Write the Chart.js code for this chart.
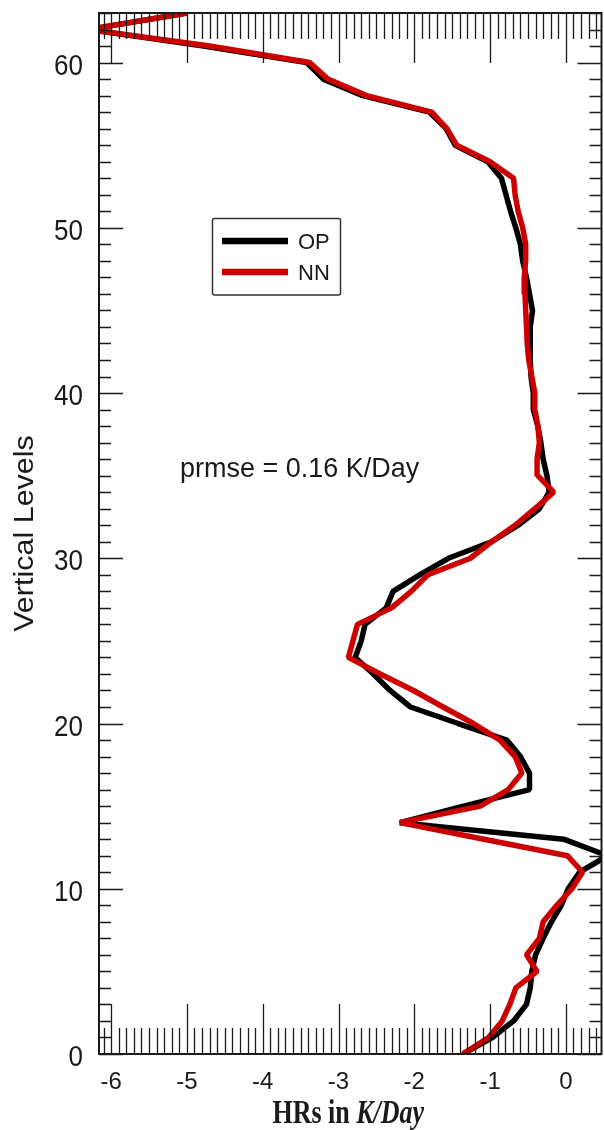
<!DOCTYPE html>
<html>
<head>
<meta charset="utf-8">
<title>HRs vertical profile</title>
<script src="https://cdn.jsdelivr.net/npm/chart.js@4.4.1/dist/chart.umd.min.js"></script>
<style>
    html, body { margin: 0; padding: 0; background: #fff; }
    #wrap { width: 604px; height: 1130px; }
</style>
</head>
<body>
<div id="wrap"><canvas id="hrChart" width="604" height="1130"></canvas></div>
<script>
// model levels (y) and heating rates in K/Day (x)
const levels = [0, 1, 2, 3, 4, 5, 6, 7, 8, 9, 10, 11, 12, 13, 14, 15, 16, 17, 18, 19, 20,
    21, 22, 23, 24, 25, 26, 27, 28, 29, 30, 31, 32, 33, 34, 35, 36, 37, 38, 39, 40,
    41, 42, 43, 44, 45, 46, 47, 48, 49, 50, 51, 52, 53, 54, 55, 56, 57, 58, 59, 60,
    61, 62, 63];
const opValues = [-1.36, -0.97, -0.69, -0.52, -0.47, -0.45, -0.40, -0.30, -0.19, -0.06, 0.03,
    0.18, 0.55, -0.03, -2.19, -1.35, -0.48, -0.48, -0.60, -0.78, -1.42,
    -2.05, -2.32, -2.54, -2.78, -2.70, -2.65, -2.37, -2.28, -1.93, -1.55,
    -0.98, -0.63, -0.35, -0.22, -0.25, -0.30, -0.33, -0.37, -0.43, -0.43,
    -0.46, -0.47, -0.47, -0.47, -0.44, -0.48, -0.52, -0.57, -0.60, -0.66,
    -0.73, -0.79, -0.85, -1.03, -1.46, -1.58, -1.80, -2.68, -3.20, -3.42,
    -4.78, -6.30, -5.00];
const nnValues = [-1.36, -1.02, -0.84, -0.74, -0.66, -0.38, -0.52, -0.35, -0.30, -0.12, 0.08,
    0.22, 0.02, -1.08, -2.19, -1.13, -0.76, -0.58, -0.67, -0.87, -1.22,
    -1.62, -2.01, -2.45, -2.87, -2.81, -2.75, -2.30, -2.04, -1.82, -1.26,
    -0.98, -0.67, -0.41, -0.16, -0.37, -0.38, -0.35, -0.37, -0.41, -0.41,
    -0.45, -0.49, -0.51, -0.52, -0.53, -0.54, -0.55, -0.53, -0.53, -0.57,
    -0.63, -0.67, -0.69, -1.00, -1.44, -1.57, -1.77, -2.63, -3.14, -3.38,
    -4.70, -6.30, -5.00];
const yTickLabels = [0, 10, 20, 30, 40, 50, 60];
const xTickLabels = [-6, -5, -4, -3, -2, -1, 0];
const seriesNames = ['OP', 'NN'];
const prmseText = 'prmse = 0.16 K/Day';

const SANS = "'Liberation Sans', Arial, Helvetica, sans-serif";
const SERIF = "'Liberation Serif', 'Times New Roman', serif";

function toPoints(values) {
    return values.map((v, i) => ({ x: v, y: levels[i] }));
}

// text squeezed/stretched vertically like the original figure
function drawText(ctx, text, x, y, sy, align) {
    ctx.save();
    ctx.translate(x, y);
    ctx.scale(1, sy);
    ctx.textAlign = align || 'left';
    ctx.textBaseline = 'alphabetic';
    ctx.fillText(text, 0, 0);
    ctx.restore();
}

const framePlugin = {
    id: 'frame',
    afterDatasetsDraw(chart) {
        const { ctx, chartArea: a, scales: { x, y } } = chart;
        ctx.save();

        // inward ticks on all four sides
        ctx.strokeStyle = '#1a1a1a';
        ctx.lineWidth = 1.3;
        ctx.beginPath();
        for (let i = Math.ceil(x.min * 10); i <= Math.floor(x.max * 10); i++) {
            const px = Math.round(x.getPixelForValue(i / 10)) + 0.5;
            const len = i % 10 === 0 ? 50 : 26;
            ctx.moveTo(px, a.bottom); ctx.lineTo(px, a.bottom - len);
            ctx.moveTo(px, a.top); ctx.lineTo(px, a.top + len);
        }
        for (let j = Math.ceil(y.min); j <= Math.floor(y.max); j++) {
            const py = Math.round(y.getPixelForValue(j)) + 0.5;
            const len = j % 10 === 0 ? 24 : 12;
            ctx.moveTo(a.left, py); ctx.lineTo(a.left + len, py);
            ctx.moveTo(a.right, py); ctx.lineTo(a.right - len, py);
        }
        ctx.stroke();

        ctx.lineWidth = 2;
        ctx.strokeRect(a.left, a.top, a.right - a.left, a.bottom - a.top);

        // tick labels
        ctx.fillStyle = '#1a1a1a';
        ctx.font = '26px ' + SANS;
        yTickLabels.forEach(v => drawText(ctx, String(v), 83, y.getPixelForValue(v) + 12, 1.12, 'right'));
        ctx.font = '24px ' + SANS;
        xTickLabels.forEach(v => drawText(ctx, String(v), x.getPixelForValue(v), a.bottom + 34.5, 0.97, 'center'));

        // y title
        ctx.save();
        ctx.font = '27px ' + SANS;
        ctx.translate(33.3, (a.top + a.bottom) / 2);
        ctx.rotate(-Math.PI / 2);
        ctx.scale(1.13, 1);
        ctx.textAlign = 'center';
        ctx.textBaseline = 'alphabetic';
        ctx.fillText('Vertical Levels', 0, 0);
        ctx.restore();

        // x title: "HRs in " bold + "K/Day" bold italic
        ctx.font = 'bold 26px ' + SERIF;
        const w1 = ctx.measureText('HRs in ').width;
        ctx.font = 'italic bold 26px ' + SERIF;
        const w2 = ctx.measureText('K/Day').width;
        const sx = 348.3 - (w1 + w2) / 2;
        ctx.font = 'bold 26px ' + SERIF;
        drawText(ctx, 'HRs in ', sx, 1123.3, 1.27);
        ctx.font = 'italic bold 26px ' + SERIF;
        drawText(ctx, 'K/Day', sx + w1, 1123.3, 1.27);

        // prmse annotation
        ctx.font = '27px ' + SANS;
        drawText(ctx, prmseText, 180, 476.7, 1.05);

        // legend box
        ctx.strokeStyle = '#333';
        ctx.lineWidth = 1.5;
        ctx.beginPath();
        if (ctx.roundRect) ctx.roundRect(212.5, 218.5, 128, 76.5, 2);
        else ctx.rect(212.5, 218.5, 128, 76.5);
        ctx.stroke();
        ctx.font = '22px ' + SANS;
        chart.data.datasets.slice().sort((p, q) => q.order - p.order).forEach((ds, k) => {
            const ly = 241 + k * 31;
            ctx.strokeStyle = ds.borderColor;
            ctx.lineWidth = 6.5;
            ctx.lineCap = 'butt';
            ctx.beginPath();
            ctx.moveTo(222, ly); ctx.lineTo(288, ly);
            ctx.stroke();
            ctx.fillStyle = '#1a1a1a';
            drawText(ctx, ds.label, 298, ly + 8.3, 1.0);
        });

        ctx.restore();
    }
};

new Chart(document.getElementById('hrChart'), {
    type: 'scatter',
    data: {
        datasets: [
            {
                label: seriesNames[0], data: toPoints(opValues),
                borderColor: '#000000', backgroundColor: '#000000',
                borderWidth: 5.5, showLine: true, pointRadius: 0,
                borderJoinStyle: 'bevel', clip: 0, order: 1
            },
            {
                label: seriesNames[1], data: toPoints(nnValues),
                borderColor: '#cc0000', backgroundColor: '#cc0000',
                borderWidth: 5.5, showLine: true, pointRadius: 0,
                borderJoinStyle: 'bevel', clip: 0, order: 0
            }
        ]
    },
    options: {
        responsive: false,
        animation: false,
        layout: { padding: { left: 99, right: 2.5, top: 13, bottom: 76 } },
        plugins: { legend: { display: false }, tooltip: { enabled: false } },
        scales: {
            x: { type: 'linear', min: -6.16, max: 0.47, display: false },
            y: { type: 'linear', min: 0, max: 63, display: false }
        }
    },
    plugins: [framePlugin]
});
</script>
</body>
</html>
